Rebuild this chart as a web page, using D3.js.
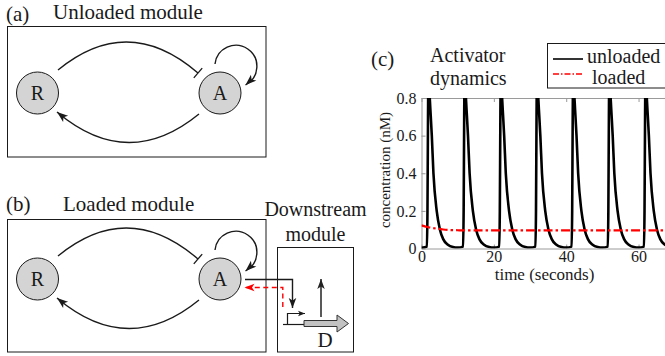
<!DOCTYPE html>
<html>
<head>
<meta charset="utf-8">
<script src="https://cdn.jsdelivr.net/npm/d3@7"></script>
<style>
  body { margin: 0; background: #fff; }
  svg { display: block; }
</style>
</head>
<body>
<svg id="fig" width="665" height="356"></svg>
<script>
// --- data ---
const unloadedTime = [
  0, 1.5, 1.65, 1.8, 1.9, 2.1, 2.45, 2.85, 3.3, 4.2, 5.1, 6.0, 7.3, 8.7,
  10, 11.5, 11.65, 11.8, 11.9, 12.1, 12.45, 12.85, 13.3, 14.2, 15.1, 16.0, 17.3, 18.7,
  20, 21.5, 21.65, 21.8, 21.9, 22.1, 22.45, 22.85, 23.3, 24.2, 25.1, 26.0, 27.3, 28.7,
  30, 31.5, 31.65, 31.8, 31.9, 32.1, 32.45, 32.85, 33.3, 34.2, 35.1, 36.0, 37.3, 38.7,
  40, 41.5, 41.65, 41.8, 41.9, 42.1, 42.45, 42.85, 43.3, 44.2, 45.1, 46.0, 47.3, 48.7,
  50, 51.5, 51.65, 51.8, 51.9, 52.1, 52.45, 52.85, 53.3, 54.2, 55.1, 56.0, 57.3, 58.7,
  60, 61.5, 61.65, 61.8, 61.9, 62.1, 62.45, 62.85, 63.3, 64.2, 65.1, 66.0, 67.3, 68.7
];
const unloadedConc = [
  0.004, 0.010, 0.20, 0.70, 0.90, 0.86, 0.74, 0.60, 0.40, 0.20, 0.10, 0.05, 0.020, 0.008,
  0.005, 0.010, 0.20, 0.70, 0.90, 0.86, 0.74, 0.60, 0.40, 0.20, 0.10, 0.05, 0.020, 0.008,
  0.005, 0.010, 0.20, 0.70, 0.90, 0.86, 0.74, 0.60, 0.40, 0.20, 0.10, 0.05, 0.020, 0.008,
  0.005, 0.010, 0.20, 0.70, 0.90, 0.86, 0.74, 0.60, 0.40, 0.20, 0.10, 0.05, 0.020, 0.008,
  0.005, 0.010, 0.20, 0.70, 0.90, 0.86, 0.74, 0.60, 0.40, 0.20, 0.10, 0.05, 0.020, 0.008,
  0.005, 0.010, 0.20, 0.70, 0.90, 0.86, 0.74, 0.60, 0.40, 0.20, 0.10, 0.05, 0.020, 0.008,
  0.005, 0.010, 0.20, 0.70, 0.90, 0.86, 0.74, 0.60, 0.40, 0.20, 0.10, 0.05, 0.020, 0.008
];
const loadedTime = [0, 2, 4, 6, 8, 10, 13, 20, 30, 40, 50, 60, 70];
const loadedConc = [0.123, 0.113, 0.106, 0.101, 0.098, 0.097, 0.096, 0.096, 0.096, 0.096, 0.096, 0.096, 0.096];

const xTicks = [0, 20, 40, 60];
const yTicks = [0, 0.2, 0.4, 0.6, 0.8];
const seriesNames = ["unloaded", "loaded"];
const panelLabels = ["(a)", "(b)", "(c)"];
const moduleTitles = ["Unloaded module", "Loaded module"];
const nodeNames = ["R", "A"];

const FONT = "'Liberation Serif', 'Times New Roman', serif";
const INK = "#1a1a1a";
const svg = d3.select("#fig");

function label(parent, x, y, size, str, anchor) {
  return parent.append("text")
    .attr("x", x).attr("y", y)
    .style("font-family", FONT)
    .style("font-size", size + "px")
    .attr("fill", INK)
    .attr("text-anchor", anchor || "start")
    .text(str);
}

function addArrowHead(g, pathSel, len, wid, color) {
  const node = pathSel.node();
  const L = node.getTotalLength();
  const tip = node.getPointAtLength(L);
  const back = node.getPointAtLength(Math.max(0, L - len));
  let dx = tip.x - back.x, dy = tip.y - back.y;
  const d = Math.hypot(dx, dy) || 1;
  dx /= d; dy /= d;
  const bx = tip.x - dx * len, by = tip.y - dy * len;
  const px = -dy * wid / 2, py = dx * wid / 2;
  g.append("path")
    .attr("d", `M${tip.x},${tip.y}L${bx + px},${by + py}L${bx + dx * len * 0.25},${by + dy * len * 0.25}L${bx - px},${by - py}Z`)
    .attr("fill", color);
}

function addTBar(g, pathSel, size) {
  const node = pathSel.node();
  const L = node.getTotalLength();
  const tip = node.getPointAtLength(L);
  const back = node.getPointAtLength(L - 3);
  const dx = tip.x - back.x, dy = tip.y - back.y;
  const d = Math.hypot(dx, dy) || 1;
  const px = -dy / d * size / 2, py = dx / d * size / 2;
  g.append("line")
    .attr("x1", tip.x - px).attr("y1", tip.y - py)
    .attr("x2", tip.x + px).attr("y2", tip.y + py)
    .attr("stroke", INK).attr("stroke-width", 1.3);
}

// --- module diagram (panels a and b) ---
function drawModule(dy) {
  const g = svg.append("g").attr("transform", `translate(0,${dy})`);
  const nodes = [{name: nodeNames[0], x: 37.5, y: 93}, {name: nodeNames[1], x: 220, y: 93}];

  // R -| A (top arc)
  const top = g.append("path")
    .attr("d", "M58,70 Q128,12.5 198,73")
    .attr("fill", "none").attr("stroke", INK).attr("stroke-width", 1.4);
  addTBar(g, top, 13);

  // A -> R (bottom arc)
  const bottom = g.append("path")
    .attr("d", "M199,114 Q128,172 57,112")
    .attr("fill", "none").attr("stroke", INK).attr("stroke-width", 1.4);
  addArrowHead(g, bottom, 11, 8, INK);

  // A -> A
  const loop = g.append("path")
    .attr("d", "M215,64 A21,21 0 1 1 245.5,85")
    .attr("fill", "none").attr("stroke", INK).attr("stroke-width", 1.4);
  addArrowHead(g, loop, 11, 8, INK);

  g.selectAll("circle")
    .data(nodes)
    .join("circle")
    .attr("cx", d => d.x).attr("cy", d => d.y).attr("r", 21)
    .attr("fill", "#d4d4d4").attr("stroke", INK).attr("stroke-width", 1);

  nodes.forEach(n => label(g, n.x, n.y + 6.5, 20, n.name, "middle"));
  return g;
}

// panel (a)
svg.append("rect").attr("x", 7.5).attr("y", 26.5).attr("width", 258.5).attr("height", 130.5)
  .attr("fill", "none").attr("stroke", INK).attr("stroke-width", 1);
drawModule(0);
label(svg, 6, 21, 21, panelLabels[0]);
label(svg, 53, 19, 21, moduleTitles[0]);

// panel (b)
svg.append("rect").attr("x", 7.5).attr("y", 219.5).attr("width", 258.5).attr("height", 132.5)
  .attr("fill", "none").attr("stroke", INK).attr("stroke-width", 1);
drawModule(186);
label(svg, 6, 211, 21, panelLabels[1]);
label(svg, 63, 211, 21, moduleTitles[1]);

// downstream module
svg.append("rect").attr("x", 277.5).attr("y", 247.5).attr("width", 76).attr("height", 104.5)
  .attr("fill", "none").attr("stroke", INK).attr("stroke-width", 1);
label(svg, 315.5, 215.5, 20, "Downstream", "middle");
label(svg, 315.5, 240.5, 20, "module", "middle");

const gd = svg.append("g");
const bind = gd.append("path").attr("d", "M245,279.5 H292.5 V308")
  .attr("fill", "none").attr("stroke", INK).attr("stroke-width", 1.4);
addArrowHead(gd, bind, 10, 7.5, INK);
const retro = gd.append("path").attr("d", "M282.8,307 V287.5 H244.5")
  .attr("fill", "none").attr("stroke", "#ff0000").attr("stroke-width", 1.4)
  .attr("stroke-dasharray", "5,3.5");
addArrowHead(gd, retro, 10, 7.5, "#ff0000");
gd.append("path").attr("d", "M283,324.5 H304").attr("stroke", INK).attr("stroke-width", 1.2).attr("fill", "none");
const prom = gd.append("path").attr("d", "M287.5,324.5 V313.5 H305")
  .attr("fill", "none").attr("stroke", INK).attr("stroke-width", 1.2);
addArrowHead(gd, prom, 7, 5.5, INK);
gd.append("path")
  .attr("d", "M304,320.5 H337 V315 L348.5,323.5 L337,332 V326.5 H304 Z")
  .attr("fill", "#c2c2c2").attr("stroke", "#333").attr("stroke-width", 1);
const expr = gd.append("path").attr("d", "M321,317 V279")
  .attr("fill", "none").attr("stroke", "#222").attr("stroke-width", 1.5);
addArrowHead(gd, expr, 10, 7.5, "#222");
label(gd, 325, 347, 21, "D", "middle");

// --- panel (c): activator dynamics ---
const x = d3.scaleLinear().domain([0, 68]).range([421.5, 667.5]);
const y = d3.scaleLinear().domain([0, 0.8]).range([248.5, 98]);

svg.append("defs").append("clipPath").attr("id", "plotclip")
  .append("rect").attr("x", x(0)).attr("y", y(0.8)).attr("width", x(68) - x(0)).attr("height", y(0) - y(0.8));

const AXIS = "#9a9a9a";
const xAxis = svg.append("g").attr("transform", `translate(0,${y(0)})`)
  .call(d3.axisBottom(x).tickValues(xTicks).tickSize(-4).tickPadding(2).tickSizeOuter(0));
const xTop = svg.append("g").attr("transform", `translate(0,${y(0.8)})`)
  .call(d3.axisTop(x).tickValues(xTicks).tickSize(-4).tickFormat("").tickSizeOuter(0));
const yAxis = svg.append("g").attr("transform", `translate(${x(0)},0)`)
  .call(d3.axisLeft(y).tickValues(yTicks).tickSize(-4).tickPadding(5).tickSizeOuter(0)
    .tickFormat(d => d === 0 ? "0" : d.toFixed(1)));
[xAxis, xTop, yAxis].forEach(a => {
  a.select(".domain").attr("stroke", AXIS);
  a.selectAll(".tick line").attr("stroke", AXIS);
  a.selectAll(".tick text").attr("fill", INK)
    .style("font-family", FONT).style("font-size", "16px");
});

const plot = svg.append("g").attr("clip-path", "url(#plotclip)");
const unloaded = unloadedTime.map((t, i) => [t, unloadedConc[i]]);
const loaded = loadedTime.map((t, i) => [t, loadedConc[i]]);
const line = d3.line().x(d => x(d[0])).y(d => y(d[1])).curve(d3.curveMonotoneX);

plot.append("path").datum(unloaded).attr("d", line)
  .attr("fill", "none").attr("stroke", "#000").attr("stroke-width", 2.6).attr("stroke-linejoin", "round");
plot.append("path").datum(loaded).attr("d", line)
  .attr("fill", "none").attr("stroke", "#ff0000").attr("stroke-width", 2.2)
  .attr("stroke-dasharray", "9,3,2.5,3");

label(svg, 0, 0, 15, "concentration (nM)", "middle")
  .attr("transform", "translate(390,170) rotate(-90)");
label(svg, 544.5, 280, 17, "time (seconds)", "middle");

label(svg, 371, 66, 21, panelLabels[2]);
label(svg, 430, 62, 20, "Activator");
label(svg, 430, 85, 20, "dynamics");

// legend
const lg = svg.append("g");
lg.append("rect").attr("x", 547.5).attr("y", 43.5).attr("width", 130).attr("height", 44.5)
  .attr("fill", "#fff").attr("stroke", INK).attr("stroke-width", 1);
const legendStyles = [{color: "#000", dash: null, w: 1.6}, {color: "#ff0000", dash: "6,2,1.5,2", w: 1.4}];
seriesNames.forEach((name, i) => {
  const yy = 59 + i * 15;
  lg.append("line").attr("x1", 553).attr("x2", 583).attr("y1", yy).attr("y2", yy)
    .attr("stroke", legendStyles[i].color).attr("stroke-width", legendStyles[i].w)
    .attr("stroke-dasharray", legendStyles[i].dash);
  label(lg, i === 0 ? 587 : 592, yy + 4 + i * 6, 20, name);
});
</script>
</body>
</html>
